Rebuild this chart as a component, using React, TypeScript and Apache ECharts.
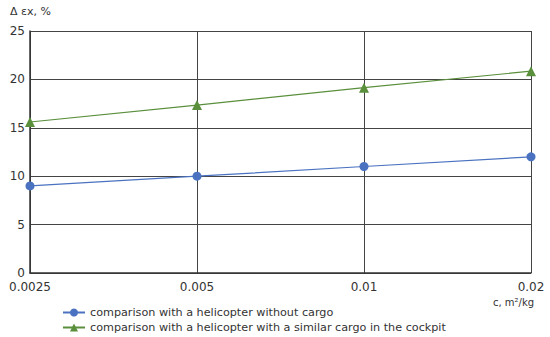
import React, { useEffect, useRef } from "react";
import * as echarts from "echarts";

const categories = ["0.0025", "0.005", "0.01", "0.02"];
const seriesWithout = [9.0, 10.0, 11.0, 12.0];
const seriesWithCargo = [15.6, 17.35, 19.15, 20.85];
const yTicks = { min: 0, max: 25, interval: 5 };
const names = [
  "comparison with a helicopter without cargo",
  "comparison with a helicopter with a similar cargo in the cockpit",
];

export default function App() {
  const ref = useRef<HTMLDivElement>(null);
  useEffect(() => {
    const chart = echarts.init(ref.current!, null, { renderer: "svg" });
    const font = "DejaVu Sans";
    const legendBase = {
      orient: "horizontal",
      left: 57,
      itemWidth: 22,
      itemHeight: 10,
      textStyle: { color: "#333", fontSize: 11.2, fontFamily: font },
    };
    chart.setOption({
      animation: false,
      textStyle: { fontFamily: font },
      grid: { left: 30, right: 19, top: 31, bottom: 64, containLabel: false },
      xAxis: {
        type: "category",
        data: categories,
        boundaryGap: false,
        axisLine: { lineStyle: { color: "#333", width: 1.5 } },
        axisTick: { show: false },
        axisLabel: { color: "#333", fontSize: 12, margin: 8, fontFamily: font },
        splitLine: { show: true, lineStyle: { color: "#444", width: 1 } },
      },
      yAxis: {
        type: "value",
        min: yTicks.min,
        max: yTicks.max,
        interval: yTicks.interval,
        axisLine: { show: true, lineStyle: { color: "#333", width: 1.5 } },
        axisTick: { show: false },
        axisLabel: { color: "#333", fontSize: 12, margin: 5, fontFamily: font },
        splitLine: { show: true, lineStyle: { color: "#444", width: 1 } },
      },
      legend: [
        { ...legendBase, top: 302, data: [names[0]] },
        { ...legendBase, top: 317, data: [names[1]] },
      ],
      graphic: [
        {
          type: "text",
          left: 10,
          top: 6,
          style: { text: "Δ εx, %", fontSize: 11, fill: "#333", fontFamily: font },
        },
        {
          type: "text",
          left: 493,
          top: 297,
          style: { text: "c, m²/kg", fontSize: 10, fill: "#333", fontFamily: font },
        },
      ],
      series: [
        {
          name: names[0],
          type: "line",
          data: seriesWithout,
          symbol: "circle",
          symbolSize: 9,
          lineStyle: { color: "#4a72c0", width: 1.2 },
          itemStyle: { color: "#4a72c0" },
        },
        {
          name: names[1],
          type: "line",
          data: seriesWithCargo,
          symbol: "triangle",
          symbolSize: 10,
          lineStyle: { color: "#5a8f3c", width: 1.2 },
          itemStyle: { color: "#5a8f3c" },
        },
      ],
    });
    return () => chart.dispose();
  }, []);
  return <div ref={ref} style={{ width: 550, height: 337, position: "absolute", left: 0, top: 0 }} />;
}
